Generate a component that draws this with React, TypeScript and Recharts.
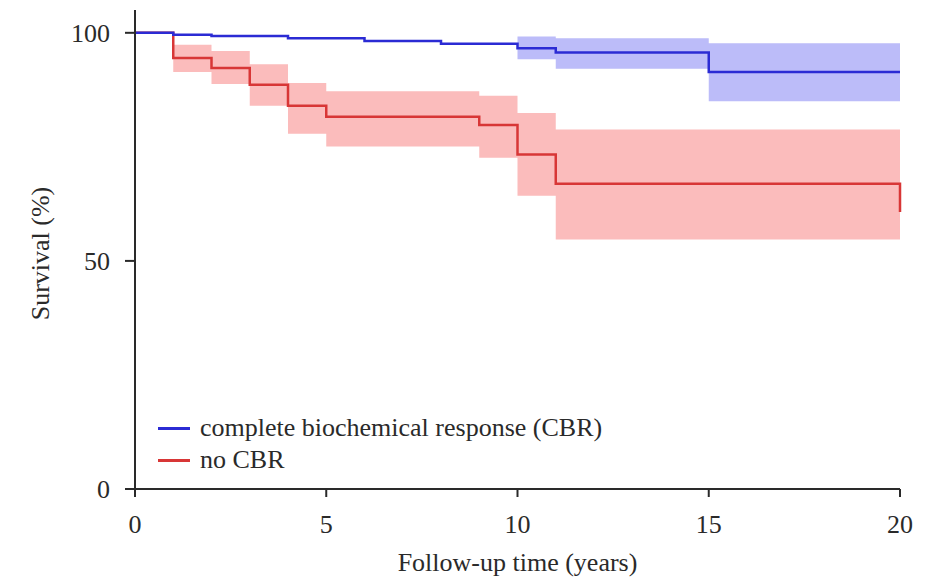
import React from 'react'
import { ComposedChart, Line, Area, XAxis, YAxis } from 'recharts'

// Kaplan-Meier estimates
const cbrTimes = [0, 1, 2, 4, 6, 8, 10, 11, 15, 20]
const cbrSurvival = [100, 99.6, 99.3, 98.8, 98.2, 97.6, 96.6, 95.7, 91.4, 91.4]
const cbrLower = [100, 99.6, 99.3, 98.8, 98.2, 97.6, 94.2, 92.1, 85.0, 85.0]
const cbrUpper = [100, 99.6, 99.3, 98.8, 98.2, 97.6, 99.2, 98.8, 97.7, 97.7]

const noCbrTimes = [0, 1, 2, 3, 4, 5, 9, 10, 11, 20]
const noCbrSurvival = [100, 94.5, 92.3, 88.6, 84.0, 81.6, 79.8, 73.3, 66.9, 60.7]
const noCbrLower = [100, 91.4, 88.8, 84.0, 77.9, 75.1, 72.6, 64.3, 54.7, 54.7]
const noCbrUpper = [100, 97.4, 96.0, 93.1, 89.0, 87.2, 86.2, 82.4, 78.8, 78.8]

const xTicks = [0, 5, 10, 15, 20]
const yTicks = [0, 50, 100]

const seriesNames = ['complete biochemical response (CBR)', 'no CBR']

const FONT = '"Liberation Serif", "Times New Roman", serif'
const TEXT = '#2a2a2a'
const BLUE = '#2b2bd4'
const RED = '#d83636'
const BLUE_BAND = '#bcbcf9'
const RED_BAND = '#fbbcbc'

const cbrData = cbrTimes.map((t, i) => ({
  t,
  s: cbrSurvival[i],
  band: [cbrLower[i], cbrUpper[i]],
}))

const noCbrData = noCbrTimes.map((t, i) => ({
  t,
  s: noCbrSurvival[i],
  band: [noCbrLower[i], noCbrUpper[i]],
}))

const LegendBox = () => (
  <div
    style={{
      position: 'absolute',
      left: 150,
      top: 404,
      fontFamily: FONT,
      fontSize: 26,
      color: TEXT,
      pointerEvents: 'none',
    }}
  >
    {seriesNames.map((name, i) => (
      <div
        key={name}
        style={{ display: 'flex', alignItems: 'center', height: 32, lineHeight: '32px' }}
      >
        <span
          style={{
            display: 'inline-block',
            width: 32,
            height: 3,
            background: i === 0 ? BLUE : RED,
            marginRight: 10,
          }}
        />
        <span style={{ whiteSpace: 'nowrap' }}>{name}</span>
      </div>
    ))}
  </div>
)

const YLabel = (props: any) => {
  const { viewBox } = props
  const cy = viewBox.y + viewBox.height / 2 + 4
  return (
    <text
      x={32}
      y={cy}
      transform={`rotate(-90, 32, ${cy})`}
      textAnchor="middle"
      dominantBaseline="central"
      fontFamily={FONT}
      fontSize={26}
      fill={TEXT}
    >
      Survival (%)
    </text>
  )
}

const App = () => {
  const tickStyle = { fontFamily: FONT, fontSize: 26, fill: TEXT }
  return (
    <div style={{ position: 'relative', width: 917, height: 573 }}>
      <ComposedChart
        width={917}
        height={573}
        margin={{ top: 2, right: 25, bottom: 0, left: 0 }}
      >
        <XAxis
          type="number"
          dataKey="t"
          domain={[0, 20]}
          ticks={xTicks}
          interval={0}
          height={92}
          tickSize={8}
          tickMargin={18}
          tick={tickStyle}
          axisLine={{ stroke: TEXT, strokeWidth: 2 }}
          tickLine={{ stroke: TEXT, strokeWidth: 2 }}
          label={{
            value: 'Follow-up time (years)',
            position: 'insideBottom',
            offset: 10,
            style: { fontFamily: FONT, fontSize: 26, fill: TEXT },
          }}
        />
        <YAxis
          type="number"
          domain={[0, 105]}
          ticks={yTicks}
          interval={0}
          width={127}
          tickSize={10}
          tickMargin={15}
          tick={tickStyle}
          axisLine={{ stroke: TEXT, strokeWidth: 2 }}
          tickLine={{ stroke: TEXT, strokeWidth: 2 }}
          label={{ content: YLabel }}
        />
        <Area
          data={noCbrData}
          dataKey="band"
          type="stepAfter"
          fill={RED_BAND}
          fillOpacity={1}
          stroke="none"
          isAnimationActive={false}
        />
        <Area
          data={cbrData}
          dataKey="band"
          type="stepAfter"
          fill={BLUE_BAND}
          fillOpacity={1}
          stroke="none"
          isAnimationActive={false}
        />
        <Line
          data={noCbrData}
          dataKey="s"
          name={seriesNames[1]}
          type="stepAfter"
          stroke={RED}
          strokeWidth={2.5}
          dot={false}
          activeDot={false}
          isAnimationActive={false}
        />
        <Line
          data={cbrData}
          dataKey="s"
          name={seriesNames[0]}
          type="stepAfter"
          stroke={BLUE}
          strokeWidth={2.5}
          dot={false}
          activeDot={false}
          isAnimationActive={false}
        />
      </ComposedChart>
      <LegendBox />
    </div>
  )
}

export default App
